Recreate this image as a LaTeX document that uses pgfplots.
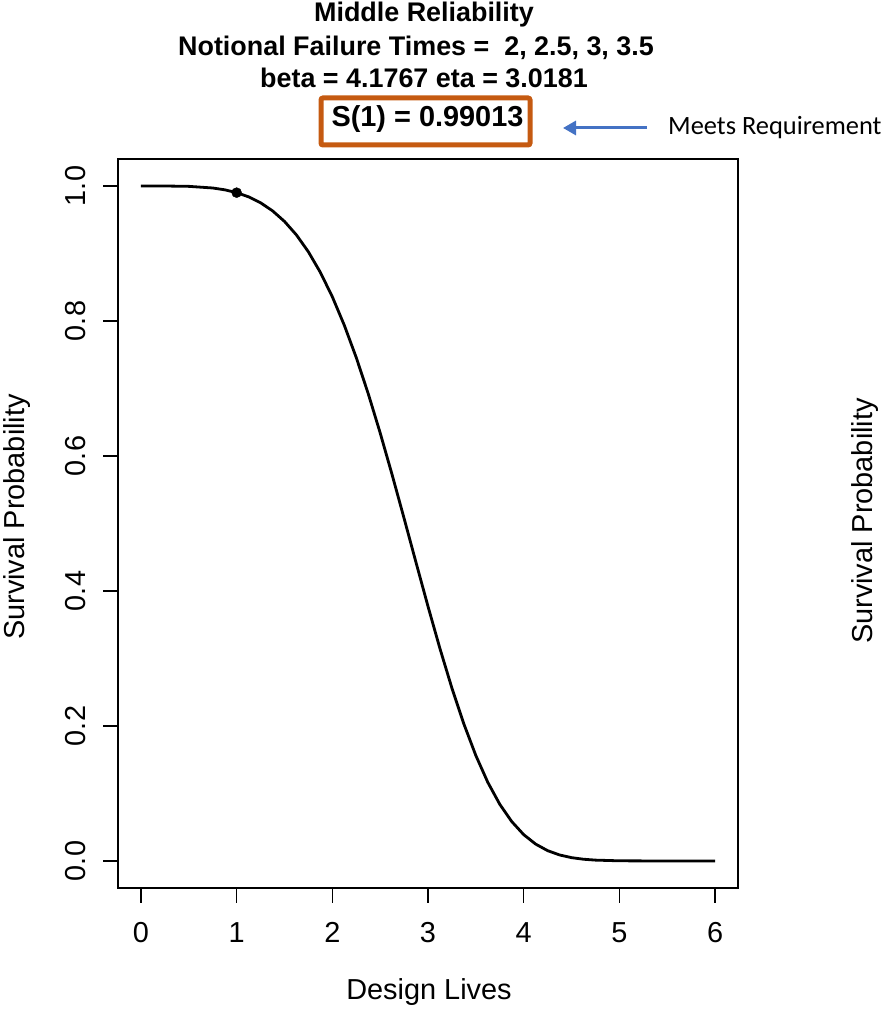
\documentclass[border=0pt]{standalone}
\usepackage{fontspec}
\setmainfont{Liberation Sans}
\newfontfamily\calibri{Carlito}
\usepackage{pgfplots}
\usepackage{pgfplotstable}
\pgfplotsset{compat=1.18}
\usetikzlibrary{arrows.meta}
\definecolor{boxorange}{HTML}{C55A11}
\definecolor{arrowblue}{HTML}{4472C4}

\pgfplotstableread{
t S
0 1.00000
0.25 0.99997
0.5 0.99945
0.75 0.99702
0.875 0.99434
1 0.99013
1.125 0.98391
1.25 0.97513
1.375 0.96320
1.5 0.94750
1.625 0.92744
1.75 0.90243
1.875 0.87202
2 0.83584
2.125 0.79375
2.25 0.74584
2.375 0.69242
2.5 0.63423
2.625 0.57215
2.75 0.50760
2.875 0.44203
3 0.37713
3.125 0.31458
3.25 0.25605
3.375 0.20293
3.5 0.15622
3.625 0.11651
3.75 0.08403
3.875 0.05843
4 0.03906
4.125 0.02504
4.25 0.01534
4.375 0.00896
4.5 0.00497
4.625 0.00261
4.75 0.00130
5 0.00027
5.5 0.00000
6 0.00000
}\survival

\pgfplotstableread{
t S
1 0.99013
}\spoint

\begin{document}
\begin{tikzpicture}[x=1bp,y=1bp]
\useasboundingbox (0,0) rectangle (882,1009);
\begin{axis}[
  at={(118bp,121bp)}, anchor=south west, scale only axis,
  width=620bp, height=729bp,
  xmin=-0.24, xmax=6.24, ymin=-0.04, ymax=1.04,
  axis line style={line width=1.3bp},
  every tick/.style={black, line width=1.3bp},
  tick align=outside, major tick length=15bp,
  xtick pos=lower, ytick pos=left,
  xtick={0,1,2,3,4,5,6}, xticklabels={0,1,2,3,4,5,6},
  ytick={0,0.2,0.4,0.6,0.8,1}, yticklabels={0.0,0.2,0.4,0.6,0.8,1.0},
  ticklabel style={font=\fontsize{29}{34}\selectfont},
  xticklabel style={yshift=-40bp, anchor=base, inner sep=0pt},
  yticklabel style={xshift=-18bp, rotate=90, anchor=base, inner sep=0pt},
  clip=false,
]
\addplot[black, line width=2.8bp, line join=round] table[x=t, y=S] {\survival};
\addplot[only marks, mark=*, mark size=5bp, black] table[x=t, y=S] {\spoint};
\end{axis}
% title
\begin{scope}[every node/.style={anchor=base, draw=black, draw opacity=0, text=black}]
\node[font=\fontsize{27}{32}\selectfont\bfseries] at (424,987) {Middle Reliability};
\node[font=\fontsize{27}{32}\selectfont\bfseries] at (416,953) {Notional Failure Times =\ \ 2, 2.5, 3, 3.5};
\node[font=\fontsize{27}{32}\selectfont\bfseries] at (424,921) {beta = 4.1767 eta = 3.0181};
\node[font=\fontsize{29}{34}\selectfont\bfseries] at (427.5,882) {S(1) = 0.99013};
\end{scope}
\draw[boxorange, line width=5bp, rounded corners=2bp] (321,864) rectangle (530,911);
\draw[arrowblue, line width=3bp, -{Triangle[length=13bp,width=14bp]}] (647,881) -- (563,881);
\node[anchor=base west, inner sep=0pt, font=\calibri\fontsize{26.5}{31}\selectfont] at (668,874) {Meets Requirement};
% axis labels
\node[anchor=base, inner sep=0pt, font=\fontsize{29}{34}\selectfont] at (429,9) {Design Lives};
\node[anchor=base, inner sep=0pt, rotate=90, font=\fontsize{29}{34}\selectfont] at (24,492) {Survival Probability};
\node[anchor=base, inner sep=0pt, rotate=90, font=\fontsize{29}{34}\selectfont] at (872,488) {Survival Probability};
\end{tikzpicture}
\end{document}
